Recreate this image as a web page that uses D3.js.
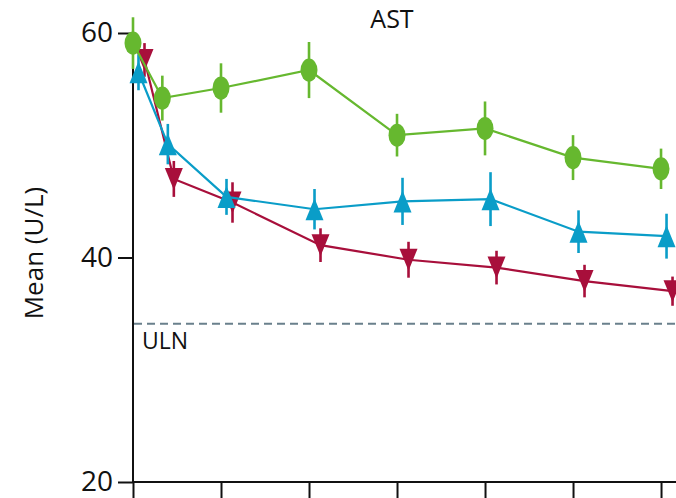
<!DOCTYPE html>
<html>
<head>
<meta charset="utf-8">
<script src="https://cdn.jsdelivr.net/npm/d3@7"></script>
<style>
  html, body { margin: 0; padding: 0; background: #fff; }
  svg { display: block; }
  text { font-family: "Open Sans", "Noto Sans", sans-serif; fill: #111; }
</style>
</head>
<body>
<svg id="chart" width="676" height="498"></svg>
<script>
// Visit weeks and mean AST (U/L) with error bars for each treatment group
const weeks = [0, 4, 12, 24, 36, 48, 60, 72];
const xTicks = [0, 12, 24, 36, 48, 60, 72];
const yTicks = [20, 40, 60];

const greenMean = [59.1, 54.2, 55.1, 56.7, 50.9, 51.5, 48.9, 47.9];
const greenErr  = [2.3, 2.0, 2.2, 2.5, 1.9, 2.4, 2.0, 1.8];
const blueMean  = [56.5, 50.1, 45.4, 44.3, 45.0, 45.2, 42.3, 41.9];
const blueErr   = [1.6, 1.8, 1.6, 1.8, 2.1, 2.4, 1.9, 2.0];
const redMean   = [57.6, 47.0, 44.9, 41.1, 39.8, 39.1, 37.9, 37.0];
const redErr    = [1.5, 1.6, 1.8, 1.5, 1.6, 1.5, 1.45, 1.3];

const uln = 34.1;

const svg = d3.select("#chart");

const x = d3.scaleLinear().domain([0, 74]).range([133, 675.7]);
const y = d3.scaleLinear().domain([20, 60]).range([482, 33]);

// Series drawn bottom-to-top; small horizontal dodge keeps markers apart
const series = [
  { name: "red",   mean: redMean,   err: redErr,   color: "#a80f3b", shape: "down", dodge: 11.5 },
  { name: "blue",  mean: blueMean,  err: blueErr,  color: "#0a9dc8", shape: "up",   dodge: 5.5 },
  { name: "green", mean: greenMean, err: greenErr, color: "#66b82f", shape: "dot",  dodge: 0 }
];

// Axes
const yAxis = d3.axisLeft(y).tickValues(yTicks).tickSize(15).tickPadding(5).tickFormat(d3.format("d"));
const gy = svg.append("g").attr("transform", `translate(${x(0)},0)`).call(yAxis);
gy.select(".domain").attr("d", `M0,${y(60)}V${y(20)}`).attr("stroke", "#111").attr("stroke-width", 2);
gy.selectAll(".tick line").attr("stroke", "#111").attr("stroke-width", 2);
gy.selectAll(".tick text").style("font-size", "28px").attr("fill", "#111");

const xAxis = d3.axisBottom(x).tickValues(xTicks).tickSize(16).tickFormat("");
const gx = svg.append("g").attr("transform", `translate(0,${y(20)})`).call(xAxis);
gx.select(".domain").attr("d", `M${x(0)},0H676`).attr("stroke", "#111").attr("stroke-width", 2);
gx.selectAll(".tick line").attr("stroke", "#111").attr("stroke-width", 2);

// Upper limit of normal
svg.append("line")
  .attr("x1", x(0) + 1).attr("x2", 676)
  .attr("y1", y(uln)).attr("y2", y(uln))
  .attr("stroke", "#6a808c").attr("stroke-width", 2)
  .attr("stroke-dasharray", "8,5");
svg.append("text")
  .attr("x", 142).attr("y", y(uln) + 25)
  .style("font-size", "23px")
  .text("ULN");

// Titles
svg.append("text")
  .attr("x", 392).attr("y", 28)
  .attr("text-anchor", "middle")
  .style("font-size", "25px")
  .text("AST");

svg.append("text")
  .attr("transform", "translate(43,253) rotate(-90)")
  .attr("text-anchor", "middle")
  .style("font-size", "26px")
  .text("Mean (U/L)");

// Triangle marker path centred on its bounding box
function triPath(w, h, dir) {
  const s = dir === "up" ? 1 : -1;
  return `M0,${-s * h / 2}L${w / 2},${s * h / 2}L${-w / 2},${s * h / 2}Z`;
}

series.forEach(s => {
  const pts = weeks.map((w, i) => ({ px: x(w) + s.dodge, v: s.mean[i], e: s.err[i] }));
  const g = svg.append("g").attr("class", "series-" + s.name);

  g.append("path")
    .datum(pts)
    .attr("fill", "none")
    .attr("stroke", s.color)
    .attr("stroke-width", 2.2)
    .attr("d", d3.line().x(d => d.px).y(d => y(d.v)));

  g.selectAll("line.err").data(pts).join("line")
    .attr("class", "err")
    .attr("x1", d => d.px).attr("x2", d => d.px)
    .attr("y1", d => y(d.v + d.e)).attr("y2", d => y(d.v - d.e))
    .attr("stroke", s.color).attr("stroke-width", 2.6);

  if (s.shape === "dot") {
    g.selectAll("ellipse").data(pts).join("ellipse")
      .attr("cx", d => d.px).attr("cy", d => y(d.v))
      .attr("rx", 8.5).attr("ry", 11.5)
      .attr("fill", s.color);
  } else {
    g.selectAll("path.mk").data(pts).join("path")
      .attr("class", "mk")
      .attr("transform", d => `translate(${d.px},${y(d.v)})`)
      .attr("d", triPath(18, 22, s.shape))
      .attr("fill", s.color);
  }
});
</script>
</body>
</html>
